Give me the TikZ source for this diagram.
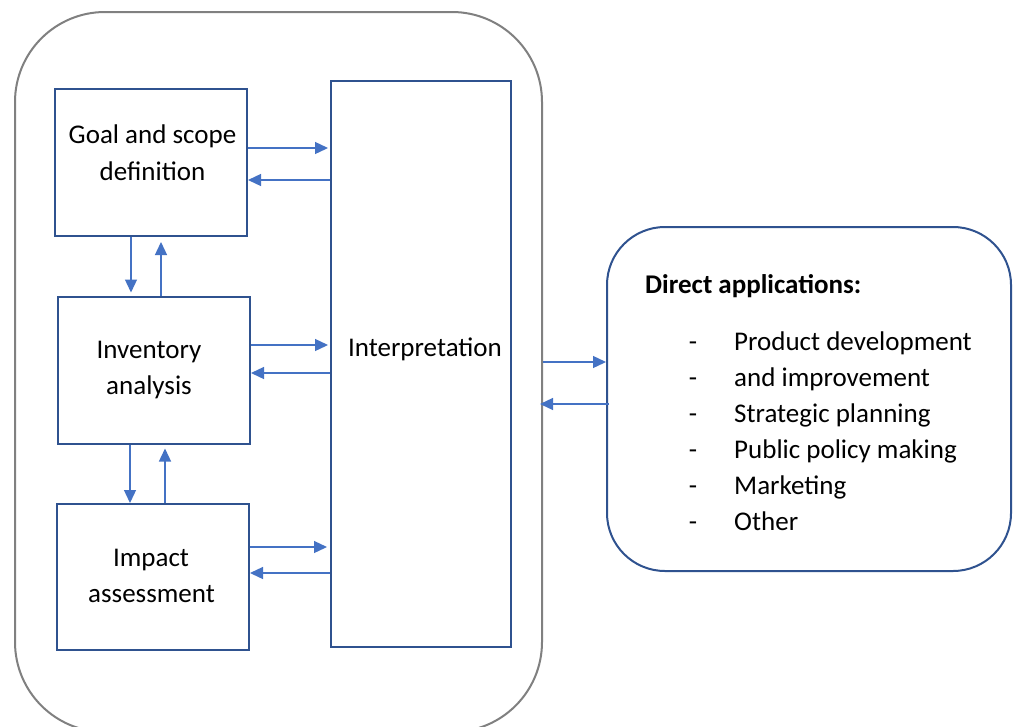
\documentclass[tikz,border=0pt]{standalone}
\usepackage{fontspec}
\setmainfont{Carlito}
\usetikzlibrary{arrows.meta}
\definecolor{boxblue}{RGB}{47,82,143}
\definecolor{arrblue}{RGB}{68,114,196}
\definecolor{outgray}{RGB}{128,128,128}
\tikzset{
  box/.style={draw=boxblue, line width=2pt, inner sep=0pt, fill=white},
  lbl/.style={font=\fontsize{27}{36}\selectfont, anchor=base, inner sep=0pt, text=black},
  lblw/.style={lbl, anchor=base west},
  arr/.style={draw=arrblue, line width=1.3pt, -{Triangle[length=13pt,width=12pt]}}
}
\begin{document}
\begin{tikzpicture}[x=1pt,y=-1pt]
\useasboundingbox (0,0) rectangle (1014,726);
\clip (0,0) rectangle (1014,726);
\fill[white] (0,0) rectangle (1014,726);
% outer container
\node[draw=outgray, line width=2pt, rounded corners=90pt, minimum width=527pt, minimum height=720pt, inner sep=0pt] (outer) at (278.5,372) {};
% boxes
\node[box, minimum width=192pt, minimum height=147pt] (goal) at (151,162.5) {};
\node[box, minimum width=192pt, minimum height=147pt] (inv) at (154,370) {};
\node[box, minimum width=192pt, minimum height=146pt] (imp) at (153,577) {};
\node[box, minimum width=180pt, minimum height=566pt] (interp) at (421,364) {};
\node[draw=boxblue, line width=2pt, rounded corners=58pt, minimum width=404pt, minimum height=344pt, inner sep=0pt] (apps) at (809,399) {};
% texts
\node[lbl] (goal1) at (152.5,143) {Goal and scope};
\node[lbl] (goal2) at (152.5,180) {definition};
\node[lbl] (inv1) at (149,358) {Inventory};
\node[lbl] (inv2) at (149,394) {analysis};
\node[lbl] (imp1) at (151,566) {Impact};
\node[lbl] (imp2) at (151.5,602) {assessment};
\node[lbl] (interpt) at (425,356) {Interpretation};
\node[lblw, font=\fontsize{27}{36}\selectfont\bfseries] (apptitle) at (645,293) {Direct applications:};
\foreach \i/\y/\t in {1/350/Product development, 2/386/and improvement, 3/422/Strategic planning, 4/458/Public policy making, 5/494/Marketing, 6/530/Other}{
  \node[lbl] (dash\i) at (693,\y) {-};
  \node[lblw] (item\i) at (734,\y) {\t};
}
% horizontal arrows
\draw[arr, shorten >=2pt] (goal.east |- 0,148) -- (interp.west |- 0,148);
\draw[arr] (interp.west |- 0,180) -- (goal.east |- 0,180);
\draw[arr, shorten >=2pt] (inv.east |- 0,345) -- (interp.west |- 0,345);
\draw[arr] (interp.west |- 0,373) -- (inv.east |- 0,373);
\draw[arr, shorten >=3pt] (imp.east |- 0,547) -- (interp.west |- 0,547);
\draw[arr] (interp.west |- 0,573) -- (imp.east |- 0,573);
% vertical arrows
\draw[arr, shorten >=3pt] (goal.south -| 131,0) -- (inv.north -| 131,0);
\draw[arr, shorten >=5pt] (inv.north -| 161,0) -- (goal.south -| 161,0);
\draw[arr] (inv.south -| 130,0) -- (imp.north -| 130,0);
\draw[arr, shorten >=4pt] (imp.north -| 165,0) -- (inv.south -| 165,0);
% outer to applications
\draw[arr] (outer.east |- 0,362) -- (apps.west |- 0,362);
\draw[arr, shorten <=-3pt, shorten >=-3pt] (apps.west |- 0,404) -- (outer.east |- 0,404);
\end{tikzpicture}
\end{document}
